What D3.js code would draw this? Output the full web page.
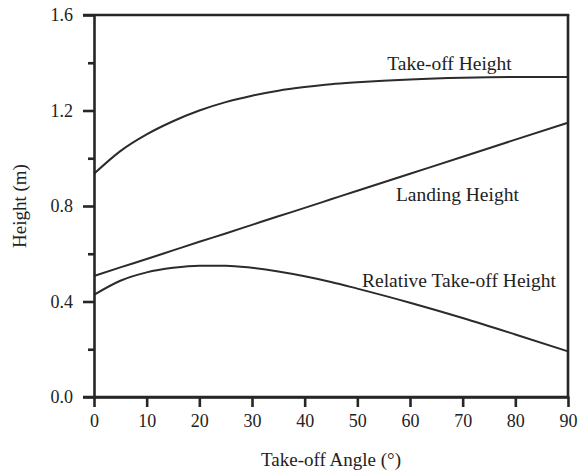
<!DOCTYPE html>
<html>
<head>
<meta charset="utf-8">
<script src="https://cdn.jsdelivr.net/npm/d3@7"></script>
<style>
  html, body { margin: 0; padding: 0; background: #fff; }
  svg { display: block; }
  text { font-family: "Liberation Serif", "Times New Roman", serif; fill: #222; }
</style>
</head>
<body>
<svg id="chart" width="579" height="475"></svg>
<script>
// Take-off angle (degrees) at which each height was sampled
const angles = [0, 5, 10, 15, 20, 25, 30, 35, 40, 45, 50, 60, 70, 80, 90];

// Heights in metres
const takeoffHeight  = [0.935, 1.03, 1.10, 1.155, 1.20, 1.235, 1.262, 1.283, 1.298, 1.31, 1.318, 1.33, 1.337, 1.34, 1.34];
const landingHeight  = [0.507, 0.543, 0.578, 0.614, 0.650, 0.685, 0.721, 0.757, 0.792, 0.828, 0.864, 0.935, 1.006, 1.078, 1.149];
const relativeHeight = [0.428, 0.487, 0.522, 0.541, 0.550, 0.550, 0.541, 0.526, 0.506, 0.482, 0.454, 0.395, 0.331, 0.262, 0.191];

const seriesNames = ["Take-off Height", "Landing Height", "Relative Take-off Height"];
const seriesValues = [takeoffHeight, landingHeight, relativeHeight];
// label anchor points in data units (angle, height)
const labelAngles = [67.5, 69, 69.3];
const labelHeights = [1.37, 0.82, 0.46];

const xTicks = [0, 10, 20, 30, 40, 50, 60, 70, 80, 90];
const yMajorTicks = [0.0, 0.4, 0.8, 1.2, 1.6];
const yMinorTicks = [0.2, 0.6, 1.0, 1.4];

const margin = { left: 94, right: 11, top: 15, bottom: 78 };
const width = 579, height = 475;

const svg = d3.select("#chart");

const x = d3.scaleLinear().domain([0, 90]).range([margin.left, width - margin.right]);
const y = d3.scaleLinear().domain([0, 1.6]).range([height - margin.bottom, margin.top]);

const ink = "#262626";

// curves
const line = d3.line()
  .x((d, i) => x(angles[i]))
  .y(d => y(d))
  .curve(d3.curveMonotoneX);

svg.append("g").selectAll("path")
  .data(seriesValues)
  .join("path")
  .attr("d", d => line(d))
  .attr("fill", "none")
  .attr("stroke", "#2b2b2b")
  .attr("stroke-width", 2);

// curve labels
svg.append("g").selectAll("text")
  .data(seriesNames)
  .join("text")
  .attr("x", (d, i) => x(labelAngles[i]))
  .attr("y", (d, i) => y(labelHeights[i]))
  .attr("text-anchor", "middle")
  .attr("font-size", 19.5)
  .text(d => d);

// x axis (bottom)
const xAxis = d3.axisBottom(x)
  .tickValues(xTicks)
  .tickSize(10)
  .tickSizeOuter(0)
  .tickPadding(7)
  .tickFormat(d3.format("d"));
const gx = svg.append("g")
  .attr("transform", `translate(0,${y(0)})`)
  .call(xAxis);

// y axis (left), major ticks with labels
const yAxis = d3.axisLeft(y)
  .tickValues(yMajorTicks)
  .tickSize(11)
  .tickSizeOuter(0)
  .tickPadding(10)
  .tickFormat(d3.format(".1f"));
const gy = svg.append("g")
  .attr("transform", `translate(${x(0)},0)`)
  .call(yAxis);

// y axis minor ticks
const yMinor = d3.axisLeft(y)
  .tickValues(yMinorTicks)
  .tickSize(6)
  .tickSizeOuter(0)
  .tickFormat("");
const gyMinor = svg.append("g")
  .attr("transform", `translate(${x(0)},0)`)
  .call(yMinor);
gyMinor.select(".domain").remove();

[gx, gy, gyMinor].forEach(g => {
  g.selectAll(".domain").attr("stroke", ink).attr("stroke-width", 2.6);
  g.selectAll(".tick line").attr("stroke", ink).attr("stroke-width", 2.6);
  g.selectAll(".tick text")
    .attr("font-family", "'Liberation Serif', 'Times New Roman', serif")
    .attr("font-size", 18)
    .attr("fill", "#222");
});

// frame: top and right edges
svg.append("line")
  .attr("x1", x(0) - 11).attr("x2", x(90) + 1.3)
  .attr("y1", y(1.6)).attr("y2", y(1.6))
  .attr("stroke", ink).attr("stroke-width", 2.6);
svg.append("line")
  .attr("x1", x(90)).attr("x2", x(90))
  .attr("y1", y(1.6)).attr("y2", y(0))
  .attr("stroke", ink).attr("stroke-width", 2.6);
// extend bottom axis line to the 0.0 tick
svg.append("line")
  .attr("x1", x(0) - 11).attr("x2", x(90) + 1.3)
  .attr("y1", y(0)).attr("y2", y(0))
  .attr("stroke", ink).attr("stroke-width", 2.6);

// axis titles
svg.append("text")
  .attr("x", (x(0) + x(90)) / 2)
  .attr("y", 466)
  .attr("text-anchor", "middle")
  .attr("font-size", 19)
  .text("Take-off Angle (°)");

svg.append("text")
  .attr("transform", `translate(26,${(y(0) + y(1.6)) / 2}) rotate(-90)`)
  .attr("text-anchor", "middle")
  .attr("font-size", 19)
  .text("Height (m)");
</script>
</body>
</html>
